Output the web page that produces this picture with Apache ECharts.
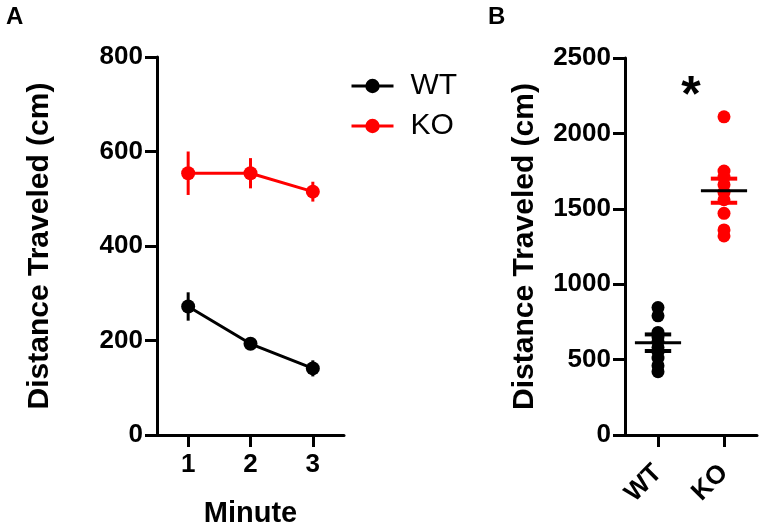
<!DOCTYPE html>
<html><head><meta charset="utf-8">
<script src="https://cdn.jsdelivr.net/npm/echarts@6/dist/echarts.min.js"></script>
<style>html,body{margin:0;padding:0;background:#fff}#c{width:762px;height:524px}</style>
</head><body><div id="c"></div>
<script>
// ---- Panel A: distance per minute (mean ± SEM) ----
const minutes = ['1', '2', '3'];
const wtMinuteMean = [272, 193, 141];
const wtMinuteSem = [30, 8, 17];
const koMinuteMean = [554, 554, 515];
const koMinuteSem = [46, 32, 21];
const minuteAxisMax = 800;
const minuteAxisStep = 200;

// ---- Panel B: total distance per animal ----
const groups = ['WT', 'KO'];
const wtTotals = [845, 790, 680, 650, 620, 580, 550, 510, 460, 420];
const koTotals = [2110, 1750, 1710, 1660, 1610, 1560, 1470, 1360, 1320];
const groupMean = [612, 1620];
const groupSem = [55, 80];
const totalAxisMax = 2500;
const totalAxisStep = 500;
const sigText = '*';
const sigValue = 2240;

const FONT = 'Liberation Sans, Arial, sans-serif';
const BLACK = '#000000';
const RED = '#ff0000';
const groupColors = [BLACK, RED];

const chart = echarts.init(document.getElementById('c'), null, {renderer: 'canvas'});

function errRender(color) {
  return function (params, api) {
    const x = api.value(0), m = api.value(1), s = api.value(2);
    const a = api.coord([x, m + s]), b = api.coord([x, m - s]);
    return {type: 'line', shape: {x1: a[0], y1: a[1], x2: b[0], y2: b[1]},
      style: {stroke: color, lineWidth: 3}};
  };
}

function meanRender(params, api) {
  const i = api.value(0), m = api.value(1), s = api.value(2);
  const c = api.coord([i, m]), hi = api.coord([i, m + s]), lo = api.coord([i, m - s]);
  const w = api.size([1, 0])[0];
  const col = groupColors[i];
  return {type: 'group', children: [
    {type: 'line', shape: {x1: hi[0], y1: hi[1], x2: lo[0], y2: lo[1]}, style: {stroke: col, lineWidth: 3}},
    {type: 'line', shape: {x1: hi[0] - w * 0.2, y1: hi[1], x2: hi[0] + w * 0.2, y2: hi[1]}, style: {stroke: col, lineWidth: 4}},
    {type: 'line', shape: {x1: lo[0] - w * 0.2, y1: lo[1], x2: lo[0] + w * 0.2, y2: lo[1]}, style: {stroke: col, lineWidth: 4}},
    {type: 'line', shape: {x1: c[0] - w * 0.35, y1: c[1], x2: c[0] + w * 0.35, y2: c[1]}, style: {stroke: BLACK, lineWidth: 3}}
  ]};
}

function sigRender(params, api) {
  const v = api.value(1);
  const p0 = api.coord([0, v]), p1 = api.coord([1, v]);
  return {type: 'text', x: (p0[0] + p1[0]) / 2, y: p0[1],
    style: {text: sigText, font: 'bold 50px ' + FONT, fill: BLACK, align: 'center', verticalAlign: 'middle'}};
}

const axisLine = {show: true, lineStyle: {color: BLACK, width: 3}};
const axisTick = {show: true, length: 12, lineStyle: {color: BLACK, width: 3}};
const labelStyle = {color: BLACK, fontFamily: FONT, fontWeight: 'bold', fontSize: 26};
const nameStyle = {color: BLACK, fontFamily: FONT, fontWeight: 'bold', fontSize: 30};
const plain = v => String(v);

chart.setOption({
  animation: false,
  backgroundColor: '#ffffff',
  title: [
    {text: 'A', left: 1, top: 0, textStyle: {fontFamily: FONT, fontWeight: 'bold', fontSize: 24, color: BLACK}},
    {text: 'B', left: 483, top: 0, textStyle: {fontFamily: FONT, fontWeight: 'bold', fontSize: 24, color: BLACK}}
  ],
  legend: {
    data: ['WT', 'KO'], orient: 'vertical', left: 345, top: 66,
    itemWidth: 42, itemHeight: 18, itemGap: 10,
    lineStyle: {width: 3},
    textStyle: {fontFamily: FONT, fontSize: 30, color: BLACK, padding: [0, 0, 0, 12]}
  },
  grid: [
    {left: 157, top: 57, width: 187, height: 378, outerBoundsMode: 'none', containLabel: false},
    {left: 625, top: 58, width: 132, height: 377, outerBoundsMode: 'none', containLabel: false}
  ],
  xAxis: [
    {gridIndex: 0, type: 'category', data: minutes, boundaryGap: true,
      axisLine: axisLine, axisTick: Object.assign({alignWithLabel: true}, axisTick),
      axisLabel: Object.assign({margin: 17}, labelStyle), splitLine: {show: false},
      name: 'Minute', nameLocation: 'middle', nameGap: 64,
      nameTextStyle: Object.assign({}, nameStyle, {fontSize: 29})},
    {gridIndex: 1, type: 'category', data: groups, boundaryGap: true,
      axisLine: axisLine, axisTick: Object.assign({alignWithLabel: true}, axisTick),
      axisLabel: Object.assign({margin: 34, rotate: 45}, labelStyle), splitLine: {show: false}}
  ],
  yAxis: [
    {gridIndex: 0, type: 'value', min: 0, max: minuteAxisMax, interval: minuteAxisStep,
      axisLine: axisLine, axisTick: axisTick, axisLabel: Object.assign({margin: 14, formatter: plain}, labelStyle),
      splitLine: {show: false},
      name: 'Distance Traveled (cm)', nameLocation: 'middle', nameGap: 102, nameRotate: 90, nameTextStyle: nameStyle},
    {gridIndex: 1, type: 'value', min: 0, max: totalAxisMax, interval: totalAxisStep,
      axisLine: axisLine, axisTick: axisTick, axisLabel: Object.assign({margin: 14, formatter: plain}, labelStyle),
      splitLine: {show: false},
      name: 'Distance Traveled (cm)', nameLocation: 'middle', nameGap: 85, nameRotate: 90, nameTextStyle: nameStyle}
  ],
  series: [
    {name: 'WT', type: 'line', xAxisIndex: 0, yAxisIndex: 0, data: wtMinuteMean,
      symbol: 'circle', symbolSize: 14, itemStyle: {color: BLACK}, lineStyle: {color: BLACK, width: 3}, z: 3},
    {name: 'KO', type: 'line', xAxisIndex: 0, yAxisIndex: 0, data: koMinuteMean,
      symbol: 'circle', symbolSize: 14, itemStyle: {color: RED}, lineStyle: {color: RED, width: 3}, z: 3},
    {name: 'WT err', type: 'custom', xAxisIndex: 0, yAxisIndex: 0,
      data: minutes.map((m, i) => [i, wtMinuteMean[i], wtMinuteSem[i]]), renderItem: errRender(BLACK), z: 2},
    {name: 'KO err', type: 'custom', xAxisIndex: 0, yAxisIndex: 0,
      data: minutes.map((m, i) => [i, koMinuteMean[i], koMinuteSem[i]]), renderItem: errRender(RED), z: 2},
    {name: 'WT total', type: 'scatter', xAxisIndex: 1, yAxisIndex: 1,
      data: wtTotals.map(v => [groups[0], v]), symbol: 'circle', symbolSize: 13, itemStyle: {color: BLACK, opacity: 1}, z: 2},
    {name: 'KO total', type: 'scatter', xAxisIndex: 1, yAxisIndex: 1,
      data: koTotals.map(v => [groups[1], v]), symbol: 'circle', symbolSize: 13, itemStyle: {color: RED, opacity: 1}, z: 2},
    {name: 'mean', type: 'custom', xAxisIndex: 1, yAxisIndex: 1,
      data: groups.map((g, i) => [i, groupMean[i], groupSem[i]]), renderItem: meanRender, z: 4},
    {name: 'sig', type: 'custom', xAxisIndex: 1, yAxisIndex: 1,
      data: [[0, sigValue]], renderItem: sigRender, z: 4}
  ]
});
</script></body></html>
